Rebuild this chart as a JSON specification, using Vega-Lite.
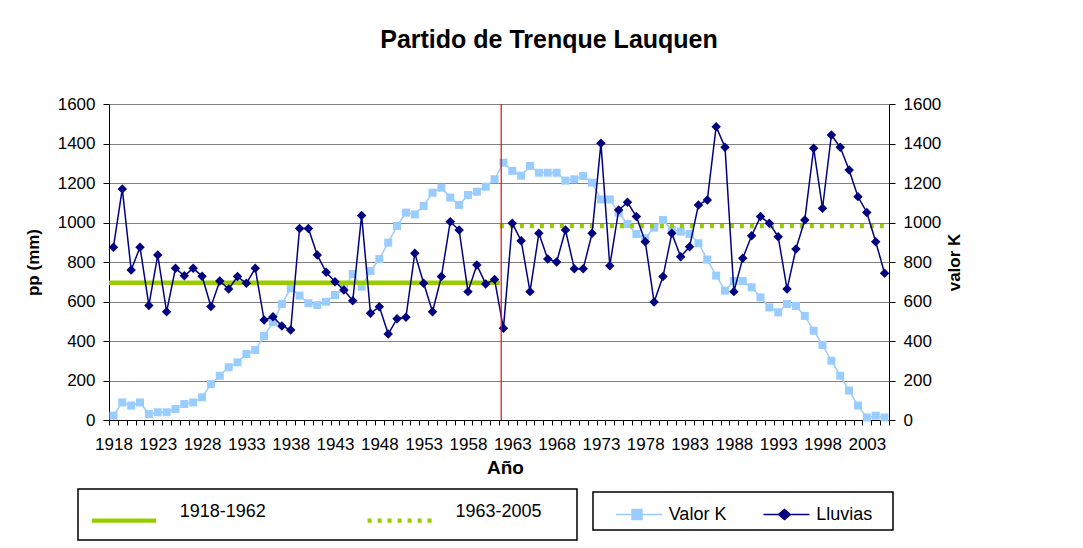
{
  "$schema": "https://vega.github.io/schema/vega-lite/v6.json",
  "width": 780,
  "height": 316,
  "autosize": "none",
  "padding": {"left": 109, "top": 104, "right": 194, "bottom": 128},
  "background": "white",
  "title": {
    "text": "Partido de Trenque Lauquen",
    "font": "Liberation Sans",
    "fontSize": 25,
    "fontWeight": "bold",
    "color": "black",
    "anchor": "middle",
    "frame": "group",
    "baseline": "alphabetic",
    "offset": 22,
    "dx": 50
  },
  "datasets": {
    "series": [
      {"anio": 1918, "serie": "Valor K", "valor": 22},
      {"anio": 1919, "serie": "Valor K", "valor": 89},
      {"anio": 1920, "serie": "Valor K", "valor": 73},
      {"anio": 1921, "serie": "Valor K", "valor": 89},
      {"anio": 1922, "serie": "Valor K", "valor": 30},
      {"anio": 1923, "serie": "Valor K", "valor": 39},
      {"anio": 1924, "serie": "Valor K", "valor": 39},
      {"anio": 1925, "serie": "Valor K", "valor": 56},
      {"anio": 1926, "serie": "Valor K", "valor": 81},
      {"anio": 1927, "serie": "Valor K", "valor": 89},
      {"anio": 1928, "serie": "Valor K", "valor": 115},
      {"anio": 1929, "serie": "Valor K", "valor": 182},
      {"anio": 1930, "serie": "Valor K", "valor": 224},
      {"anio": 1931, "serie": "Valor K", "valor": 267},
      {"anio": 1932, "serie": "Valor K", "valor": 292},
      {"anio": 1933, "serie": "Valor K", "valor": 334},
      {"anio": 1934, "serie": "Valor K", "valor": 354},
      {"anio": 1935, "serie": "Valor K", "valor": 425},
      {"anio": 1936, "serie": "Valor K", "valor": 495},
      {"anio": 1937, "serie": "Valor K", "valor": 587},
      {"anio": 1938, "serie": "Valor K", "valor": 667},
      {"anio": 1939, "serie": "Valor K", "valor": 630},
      {"anio": 1940, "serie": "Valor K", "valor": 591},
      {"anio": 1941, "serie": "Valor K", "valor": 582},
      {"anio": 1942, "serie": "Valor K", "valor": 599},
      {"anio": 1943, "serie": "Valor K", "valor": 633},
      {"anio": 1944, "serie": "Valor K", "valor": 665},
      {"anio": 1945, "serie": "Valor K", "valor": 739},
      {"anio": 1946, "serie": "Valor K", "valor": 675},
      {"anio": 1947, "serie": "Valor K", "valor": 754},
      {"anio": 1948, "serie": "Valor K", "valor": 815},
      {"anio": 1949, "serie": "Valor K", "valor": 898},
      {"anio": 1950, "serie": "Valor K", "valor": 982},
      {"anio": 1951, "serie": "Valor K", "valor": 1050},
      {"anio": 1952, "serie": "Valor K", "valor": 1041},
      {"anio": 1953, "serie": "Valor K", "valor": 1084},
      {"anio": 1954, "serie": "Valor K", "valor": 1151},
      {"anio": 1955, "serie": "Valor K", "valor": 1176},
      {"anio": 1956, "serie": "Valor K", "valor": 1126},
      {"anio": 1957, "serie": "Valor K", "valor": 1089},
      {"anio": 1958, "serie": "Valor K", "valor": 1139},
      {"anio": 1959, "serie": "Valor K", "valor": 1156},
      {"anio": 1960, "serie": "Valor K", "valor": 1181},
      {"anio": 1961, "serie": "Valor K", "valor": 1219},
      {"anio": 1962, "serie": "Valor K", "valor": 1303},
      {"anio": 1963, "serie": "Valor K", "valor": 1261},
      {"anio": 1964, "serie": "Valor K", "valor": 1237},
      {"anio": 1965, "serie": "Valor K", "valor": 1286},
      {"anio": 1966, "serie": "Valor K", "valor": 1252},
      {"anio": 1967, "serie": "Valor K", "valor": 1252},
      {"anio": 1968, "serie": "Valor K", "valor": 1252},
      {"anio": 1969, "serie": "Valor K", "valor": 1212},
      {"anio": 1970, "serie": "Valor K", "valor": 1219},
      {"anio": 1971, "serie": "Valor K", "valor": 1235},
      {"anio": 1972, "serie": "Valor K", "valor": 1202},
      {"anio": 1973, "serie": "Valor K", "valor": 1117},
      {"anio": 1974, "serie": "Valor K", "valor": 1117},
      {"anio": 1975, "serie": "Valor K", "valor": 1050},
      {"anio": 1976, "serie": "Valor K", "valor": 992},
      {"anio": 1977, "serie": "Valor K", "valor": 942},
      {"anio": 1978, "serie": "Valor K", "valor": 920},
      {"anio": 1979, "serie": "Valor K", "valor": 974},
      {"anio": 1980, "serie": "Valor K", "valor": 1013},
      {"anio": 1981, "serie": "Valor K", "valor": 962},
      {"anio": 1982, "serie": "Valor K", "valor": 954},
      {"anio": 1983, "serie": "Valor K", "valor": 942},
      {"anio": 1984, "serie": "Valor K", "valor": 895},
      {"anio": 1985, "serie": "Valor K", "valor": 812},
      {"anio": 1986, "serie": "Valor K", "valor": 731},
      {"anio": 1987, "serie": "Valor K", "valor": 655},
      {"anio": 1988, "serie": "Valor K", "valor": 704},
      {"anio": 1989, "serie": "Valor K", "valor": 704},
      {"anio": 1990, "serie": "Valor K", "valor": 672},
      {"anio": 1991, "serie": "Valor K", "valor": 621},
      {"anio": 1992, "serie": "Valor K", "valor": 570},
      {"anio": 1993, "serie": "Valor K", "valor": 545},
      {"anio": 1994, "serie": "Valor K", "valor": 587},
      {"anio": 1995, "serie": "Valor K", "valor": 577},
      {"anio": 1996, "serie": "Valor K", "valor": 527},
      {"anio": 1997, "serie": "Valor K", "valor": 452},
      {"anio": 1998, "serie": "Valor K", "valor": 380},
      {"anio": 1999, "serie": "Valor K", "valor": 300},
      {"anio": 2000, "serie": "Valor K", "valor": 224},
      {"anio": 2001, "serie": "Valor K", "valor": 149},
      {"anio": 2002, "serie": "Valor K", "valor": 73},
      {"anio": 2003, "serie": "Valor K", "valor": 13},
      {"anio": 2004, "serie": "Valor K", "valor": 22},
      {"anio": 2005, "serie": "Valor K", "valor": 13},
      {"anio": 1918, "serie": "Lluvias", "valor": 875},
      {"anio": 1919, "serie": "Lluvias", "valor": 1170},
      {"anio": 1920, "serie": "Lluvias", "valor": 760},
      {"anio": 1921, "serie": "Lluvias", "valor": 875},
      {"anio": 1922, "serie": "Lluvias", "valor": 580},
      {"anio": 1923, "serie": "Lluvias", "valor": 835},
      {"anio": 1924, "serie": "Lluvias", "valor": 548},
      {"anio": 1925, "serie": "Lluvias", "valor": 768},
      {"anio": 1926, "serie": "Lluvias", "valor": 730},
      {"anio": 1927, "serie": "Lluvias", "valor": 768},
      {"anio": 1928, "serie": "Lluvias", "valor": 728},
      {"anio": 1929, "serie": "Lluvias", "valor": 575},
      {"anio": 1930, "serie": "Lluvias", "valor": 704},
      {"anio": 1931, "serie": "Lluvias", "valor": 663},
      {"anio": 1932, "serie": "Lluvias", "valor": 726},
      {"anio": 1933, "serie": "Lluvias", "valor": 692},
      {"anio": 1934, "serie": "Lluvias", "valor": 768},
      {"anio": 1935, "serie": "Lluvias", "valor": 506},
      {"anio": 1936, "serie": "Lluvias", "valor": 523},
      {"anio": 1937, "serie": "Lluvias", "valor": 476},
      {"anio": 1938, "serie": "Lluvias", "valor": 456},
      {"anio": 1939, "serie": "Lluvias", "valor": 970},
      {"anio": 1940, "serie": "Lluvias", "valor": 970},
      {"anio": 1941, "serie": "Lluvias", "valor": 835},
      {"anio": 1942, "serie": "Lluvias", "valor": 748},
      {"anio": 1943, "serie": "Lluvias", "valor": 700},
      {"anio": 1944, "serie": "Lluvias", "valor": 658},
      {"anio": 1945, "serie": "Lluvias", "valor": 604},
      {"anio": 1946, "serie": "Lluvias", "valor": 1036},
      {"anio": 1947, "serie": "Lluvias", "valor": 540},
      {"anio": 1948, "serie": "Lluvias", "valor": 574},
      {"anio": 1949, "serie": "Lluvias", "valor": 435},
      {"anio": 1950, "serie": "Lluvias", "valor": 513},
      {"anio": 1951, "serie": "Lluvias", "valor": 520},
      {"anio": 1952, "serie": "Lluvias", "valor": 844},
      {"anio": 1953, "serie": "Lluvias", "valor": 692},
      {"anio": 1954, "serie": "Lluvias", "valor": 548},
      {"anio": 1955, "serie": "Lluvias", "valor": 726},
      {"anio": 1956, "serie": "Lluvias", "valor": 1004},
      {"anio": 1957, "serie": "Lluvias", "valor": 962},
      {"anio": 1958, "serie": "Lluvias", "valor": 650},
      {"anio": 1959, "serie": "Lluvias", "valor": 785},
      {"anio": 1960, "serie": "Lluvias", "valor": 689},
      {"anio": 1961, "serie": "Lluvias", "valor": 712},
      {"anio": 1962, "serie": "Lluvias", "valor": 464},
      {"anio": 1963, "serie": "Lluvias", "valor": 996},
      {"anio": 1964, "serie": "Lluvias", "valor": 908},
      {"anio": 1965, "serie": "Lluvias", "valor": 650},
      {"anio": 1966, "serie": "Lluvias", "valor": 945},
      {"anio": 1967, "serie": "Lluvias", "valor": 815},
      {"anio": 1968, "serie": "Lluvias", "valor": 800},
      {"anio": 1969, "serie": "Lluvias", "valor": 962},
      {"anio": 1970, "serie": "Lluvias", "valor": 766},
      {"anio": 1971, "serie": "Lluvias", "valor": 766},
      {"anio": 1972, "serie": "Lluvias", "valor": 945},
      {"anio": 1973, "serie": "Lluvias", "valor": 1401},
      {"anio": 1974, "serie": "Lluvias", "valor": 781},
      {"anio": 1975, "serie": "Lluvias", "valor": 1063},
      {"anio": 1976, "serie": "Lluvias", "valor": 1102},
      {"anio": 1977, "serie": "Lluvias", "valor": 1030},
      {"anio": 1978, "serie": "Lluvias", "valor": 903},
      {"anio": 1979, "serie": "Lluvias", "valor": 597},
      {"anio": 1980, "serie": "Lluvias", "valor": 726},
      {"anio": 1981, "serie": "Lluvias", "valor": 945},
      {"anio": 1982, "serie": "Lluvias", "valor": 827},
      {"anio": 1983, "serie": "Lluvias", "valor": 877},
      {"anio": 1984, "serie": "Lluvias", "valor": 1089},
      {"anio": 1985, "serie": "Lluvias", "valor": 1114},
      {"anio": 1986, "serie": "Lluvias", "valor": 1485},
      {"anio": 1987, "serie": "Lluvias", "valor": 1381},
      {"anio": 1988, "serie": "Lluvias", "valor": 650},
      {"anio": 1989, "serie": "Lluvias", "valor": 819},
      {"anio": 1990, "serie": "Lluvias", "valor": 933},
      {"anio": 1991, "serie": "Lluvias", "valor": 1030},
      {"anio": 1992, "serie": "Lluvias", "valor": 996},
      {"anio": 1993, "serie": "Lluvias", "valor": 928},
      {"anio": 1994, "serie": "Lluvias", "valor": 663},
      {"anio": 1995, "serie": "Lluvias", "valor": 866},
      {"anio": 1996, "serie": "Lluvias", "valor": 1013},
      {"anio": 1997, "serie": "Lluvias", "valor": 1376},
      {"anio": 1998, "serie": "Lluvias", "valor": 1072},
      {"anio": 1999, "serie": "Lluvias", "valor": 1443},
      {"anio": 2000, "serie": "Lluvias", "valor": 1381},
      {"anio": 2001, "serie": "Lluvias", "valor": 1266},
      {"anio": 2002, "serie": "Lluvias", "valor": 1131},
      {"anio": 2003, "serie": "Lluvias", "valor": 1051},
      {"anio": 2004, "serie": "Lluvias", "valor": 903},
      {"anio": 2005, "serie": "Lluvias", "valor": 743}
    ],
    "medias": [
      {"periodo": "1918-1962", "desde": 1917.5, "hasta": 1961.6, "valor": 695},
      {"periodo": "1963-2005", "desde": 1961.6, "hasta": 2004.9, "valor": 982}
    ],
    "corte": [
      {"anio": 1961.75}
    ]
  },
  "layer": [
    {
      "data": {"name": "series"},
      "transform": [{"filter": "datum.serie === 'Valor K'"}],
      "mark": {"type": "line", "strokeWidth": 1.5},
      "encoding": {
        "x": {
          "field": "anio",
          "type": "quantitative",
          "scale": {"domain": [1917.5, 2005.5], "nice": false, "zero": false},
          "axis": {
            "orient": "bottom",
            "title": "Año",
            "values": [1917.5, 1918.5, 1919.5, 1920.5, 1921.5, 1922.5, 1923.5, 1924.5, 1925.5, 1926.5, 1927.5, 1928.5, 1929.5, 1930.5, 1931.5, 1932.5, 1933.5, 1934.5, 1935.5, 1936.5, 1937.5, 1938.5, 1939.5, 1940.5, 1941.5, 1942.5, 1943.5, 1944.5, 1945.5, 1946.5, 1947.5, 1948.5, 1949.5, 1950.5, 1951.5, 1952.5, 1953.5, 1954.5, 1955.5, 1956.5, 1957.5, 1958.5, 1959.5, 1960.5, 1961.5, 1962.5, 1963.5, 1964.5, 1965.5, 1966.5, 1967.5, 1968.5, 1969.5, 1970.5, 1971.5, 1972.5, 1973.5, 1974.5, 1975.5, 1976.5, 1977.5, 1978.5, 1979.5, 1980.5, 1981.5, 1982.5, 1983.5, 1984.5, 1985.5, 1986.5, 1987.5, 1988.5, 1989.5, 1990.5, 1991.5, 1992.5, 1993.5, 1994.5, 1995.5, 1996.5, 1997.5, 1998.5, 1999.5, 2000.5, 2001.5, 2002.5, 2003.5, 2004.5, 2005.5],
            "labelExpr": "((datum.value + 0.5 - 1918) % 5 === 0 && datum.value < 2005) ? toString(datum.value + 0.5) : ''",
            "labelOffset": 4.43,
            "tickSize": 5,
            "labelPadding": 11,
            "labelFontSize": 17,
            "titleFontSize": 19,
            "titlePadding": 6,
            "titleX": 396,
            "grid": false,
            "labelOverlap": false,
            "labelFlush": false,
            "labelBound": false
          }
        },
        "y": {
          "field": "valor",
          "type": "quantitative",
          "scale": {"domain": [0, 1600], "nice": false, "zero": true},
          "axis": {
            "orient": "right",
            "title": "valor K",
            "values": [0, 200, 400, 600, 800, 1000, 1200, 1400, 1600],
            "format": "d",
            "tickSize": 6,
            "labelPadding": 8,
            "labelFontSize": 17,
            "titleFontSize": 17,
            "titleAngle": -90,
            "titleBaseline": "top",
            "titlePadding": 6,
            "grid": false
          }
        },
        "color": {
          "field": "serie",
          "type": "nominal",
          "scale": {"domain": ["Valor K", "Lluvias"], "range": ["#99CCFF", "#000080"]},
          "legend": {
            "title": null,
            "orient": "none",
            "legendX": 484,
            "legendY": 388,
            "direction": "horizontal",
            "symbolSize": 900,
            "symbolStrokeWidth": 1.5,
            "labelOffset": 37.2,
            "columnPadding": 20.5,
            "padding": 6.5,
            "strokeColor": "black",
            "labelFontSize": 18,
            "labelBaseline": "middle",
            "encode": {
              "symbols": {
                "update": {
                  "shape": {"signal": "datum.value === 'Valor K' ? 'M0.033,0H3.1M1.1,-0.333H1.767V0.333H1.1Z' : 'M0.033,0H3.1M1.433,-0.333L1.833,0L1.433,0.333L1.033,0ZM8.0,0'"},
                  "fill": {"signal": "datum.value === 'Valor K' ? '#99CCFF' : '#000080'"},
                  "stroke": {"signal": "datum.value === 'Valor K' ? '#99CCFF' : '#000080'"},
                  "strokeWidth": {"value": 1.5},
                  "opacity": {"value": 1}
                }
              },
              "legend": {"update": {"strokeWidth": {"value": 1.5}}}
            }
          }
        }
      }
    },
    {
      "data": {"name": "series"},
      "transform": [{"filter": "datum.serie === 'Valor K'"}],
      "mark": {"type": "square", "size": 64, "color": "#99CCFF", "opacity": 1},
      "encoding": {
        "x": {"field": "anio", "type": "quantitative", "axis": null},
        "y": {"field": "valor", "type": "quantitative", "axis": null}
      }
    },
    {
      "data": {"name": "medias"},
      "mark": {"type": "rule", "strokeWidth": 4.3, "color": "#99CC00"},
      "encoding": {
        "x": {"field": "desde", "type": "quantitative", "axis": null},
        "x2": {"field": "hasta"},
        "y": {"field": "valor", "type": "quantitative", "axis": null},
        "strokeDash": {
          "field": "periodo",
          "type": "nominal",
          "scale": {"domain": ["1918-1962", "1963-2005"], "range": [[1, 0], [4, 6]]},
          "legend": {
            "title": null,
            "orient": "none",
            "legendX": -31,
            "legendY": 385,
            "direction": "horizontal",
            "symbolSize": 1369,
            "symbolStrokeWidth": 4.3,
            "symbolStrokeColor": "#99CC00",
            "labelOffset": 49.2,
            "columnPadding": 91.8,
            "padding": 10.5,
            "strokeColor": "black",
            "labelFontSize": 18,
            "labelBaseline": "bottom",
            "encode": {
              "symbols": {
                "update": {
                  "shape": {"signal": "datum.value === '1918-1962' ? 'M-0.957,0H2.523' : 'M-0.957,0H2.523M9.305,0'"},
                  "stroke": {"value": "#99CC00"},
                  "fill": {"value": "transparent"},
                  "strokeWidth": {"value": 4.3},
                  "opacity": {"value": 1}
                }
              },
              "legend": {"update": {"strokeWidth": {"value": 1.5}}}
            }
          }
        }
      }
    },
    {
      "data": {"name": "series"},
      "transform": [{"filter": "datum.serie === 'Lluvias'"}],
      "mark": {"type": "line", "strokeWidth": 1.5, "color": "#000080"},
      "encoding": {
        "x": {"field": "anio", "type": "quantitative", "axis": null},
        "y": {
          "field": "valor",
          "type": "quantitative",
          "axis": {
            "orient": "left",
            "title": "pp (mm)",
            "values": [0, 200, 400, 600, 800, 1000, 1200, 1400, 1600],
            "format": "d",
            "tickSize": 6,
            "labelPadding": 8,
            "labelFontSize": 17,
            "titleFontSize": 17,
            "titlePadding": 15,
            "grid": true,
            "gridColor": "#808080",
            "gridWidth": 1
          }
        }
      }
    },
    {
      "data": {"name": "series"},
      "transform": [{"filter": "datum.serie === 'Lluvias'"}],
      "mark": {"type": "point", "shape": "diamond", "filled": true, "size": 90, "color": "#000080", "opacity": 1},
      "encoding": {
        "x": {"field": "anio", "type": "quantitative", "axis": null},
        "y": {"field": "valor", "type": "quantitative", "axis": null}
      }
    },
    {
      "data": {"name": "corte"},
      "mark": {"type": "rule", "color": "#FF0000", "strokeWidth": 1.2},
      "encoding": {
        "x": {"field": "anio", "type": "quantitative", "axis": null}
      }
    }
  ],
  "resolve": {"axis": {"x": "independent", "y": "independent"}},
  "config": {
    "font": "Liberation Sans",
    "view": {"stroke": null},
    "axis": {
      "labelFont": "Liberation Sans",
      "titleFont": "Liberation Sans",
      "labelColor": "black",
      "titleColor": "black",
      "titleFontWeight": "bold",
      "domainColor": "black",
      "tickColor": "black",
      "domainWidth": 1,
      "tickWidth": 1
    },
    "legend": {
      "labelFont": "Liberation Sans",
      "labelColor": "black"
    }
  }
}
